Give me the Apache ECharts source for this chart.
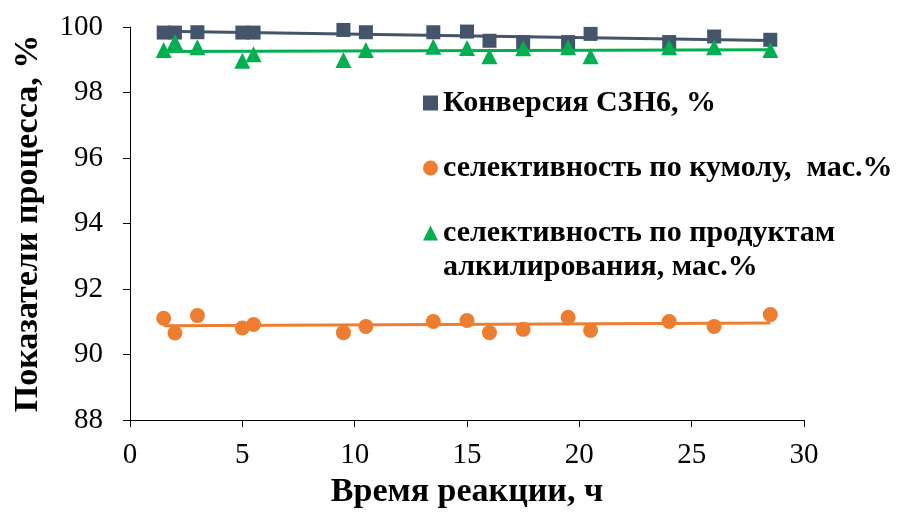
<!DOCTYPE html>
<html>
<head>
<meta charset="utf-8">
<script src="https://cdn.jsdelivr.net/npm/echarts@6/dist/echarts.min.js"></script>
<style>
  html, body { margin: 0; padding: 0; background: #fff; }
  #chart { width: 904px; height: 514px; }
</style>
</head>
<body>
<div id="chart"></div>
<script>
// Reaction time, h
const hours = [1.5, 2, 3, 5, 5.5, 9.5, 10.5, 13.5, 15, 16, 17.5, 19.5, 20.5, 24, 26, 28.5];
// Propylene (C3H6) conversion, %
const conversion = [99.83, 99.83, 99.84, 99.83, 99.83, 99.91, 99.84, 99.84, 99.86, 99.58, 99.54, 99.54, 99.79, 99.54, 99.71, 99.61];
// Selectivity to cumene, wt.%
const cumeneSel = [91.11, 90.66, 91.19, 90.81, 90.92, 90.67, 90.86, 91.01, 91.04, 90.67, 90.77, 91.14, 90.74, 91.01, 90.86, 91.22];
// Selectivity to alkylation products, wt.%
const alkylSel = [99.30, 99.54, 99.38, 98.97, 99.17, 98.99, 99.30, 99.40, 99.36, 99.11, 99.35, 99.38, 99.11, 99.38, 99.38, 99.30];

const names = ['Конверсия С3Н6, %', 'селективность по кумолу,  мас.%', 'селективность по продуктам\nалкилирования, мас.%'];
const colors = ['#44546A', '#ED7D31', '#00B050'];
const yTicks = { min: 88, max: 100, step: 2 };
const xTicks = { min: 0, max: 30, step: 5 };

// least-squares linear trend, evaluated at the first and last time point
function trend(xs, ys) {
  const n = xs.length;
  const mx = xs.reduce((a, b) => a + b, 0) / n;
  const my = ys.reduce((a, b) => a + b, 0) / n;
  let sxy = 0, sxx = 0;
  for (let i = 0; i < n; i++) { sxy += (xs[i] - mx) * (ys[i] - my); sxx += (xs[i] - mx) ** 2; }
  const k = sxy / sxx, b = my - k * mx;
  const x0 = xs[0], x1 = xs[n - 1];
  return [[x0, k * x0 + b], [x1, k * x1 + b]];
}
const pairs = ys => hours.map((h, i) => [h, ys[i]]);

const serif = 'Liberation Serif';
const sets = [conversion, cumeneSel, alkylSel];
const symbols = ['rect', 'circle', 'triangle'];
const symbolSizes = [14, 15, 16];

const series = [];
sets.forEach((ys, i) => {
  series.push({
    type: 'line', data: trend(hours, ys), showSymbol: false, silent: true,
    lineStyle: { color: colors[i], width: 3 }, z: 2 + i * 2
  });
});
sets.forEach((ys, i) => {
  series.push({
    type: 'scatter', name: names[i], data: pairs(ys), symbol: symbols[i], symbolSize: symbolSizes[i],
    itemStyle: { color: colors[i], opacity: 1 }, z: 3 + i * 2
  });
});

const chart = echarts.init(document.getElementById('chart'), null, { renderer: 'canvas' });
chart.setOption({
  animation: false,
  backgroundColor: '#fff',
  grid: { left: 130, right: 100, top: 27, bottom: 90, containLabel: false },
  legend: {
    orient: 'vertical', left: 423, top: 87, padding: 0,
    itemWidth: 15, itemHeight: 15, itemGap: 33,
    data: [
      { name: names[0], icon: 'rect' },
      { name: names[1], icon: 'circle' },
      { name: names[2], icon: 'triangle' }
    ],
    formatter: name => name.split('\n')[0],
    textStyle: { fontFamily: serif, fontWeight: 'bold', fontSize: 30, color: '#000', lineHeight: 32 }
  },
  graphic: [{
    type: 'text', left: 443, top: 252,
    style: { text: names[2].split('\n')[1], fontFamily: serif, fontWeight: 'bold', fontSize: 30, fill: '#000' }
  }],
  xAxis: {
    type: 'value', min: xTicks.min, max: xTicks.max, interval: xTicks.step,
    name: 'Время реакции, ч', nameLocation: 'middle', nameGap: 54,
    nameTextStyle: { fontFamily: serif, fontWeight: 'bold', fontSize: 34, color: '#000' },
    axisLine: { show: true, lineStyle: { color: '#000', width: 1 } },
    axisTick: { show: true, inside: false, length: 7, lineStyle: { color: '#000' } },
    axisLabel: { fontFamily: serif, fontSize: 29, color: '#000', margin: 21 },
    splitLine: { show: false }
  },
  yAxis: {
    type: 'value', min: yTicks.min, max: yTicks.max, interval: yTicks.step,
    name: 'Показатели процесса, %', nameLocation: 'middle', nameGap: 85,
    nameTextStyle: { fontFamily: serif, fontWeight: 'bold', fontSize: 34, color: '#000' },
    axisLine: { show: true, lineStyle: { color: '#000', width: 1 } },
    axisTick: { show: true, inside: false, length: 7, lineStyle: { color: '#000' } },
    axisLabel: { fontFamily: serif, fontSize: 29, color: '#000', margin: 27 },
    splitLine: { show: false }
  },
  series: series
});
</script>
</body>
</html>
